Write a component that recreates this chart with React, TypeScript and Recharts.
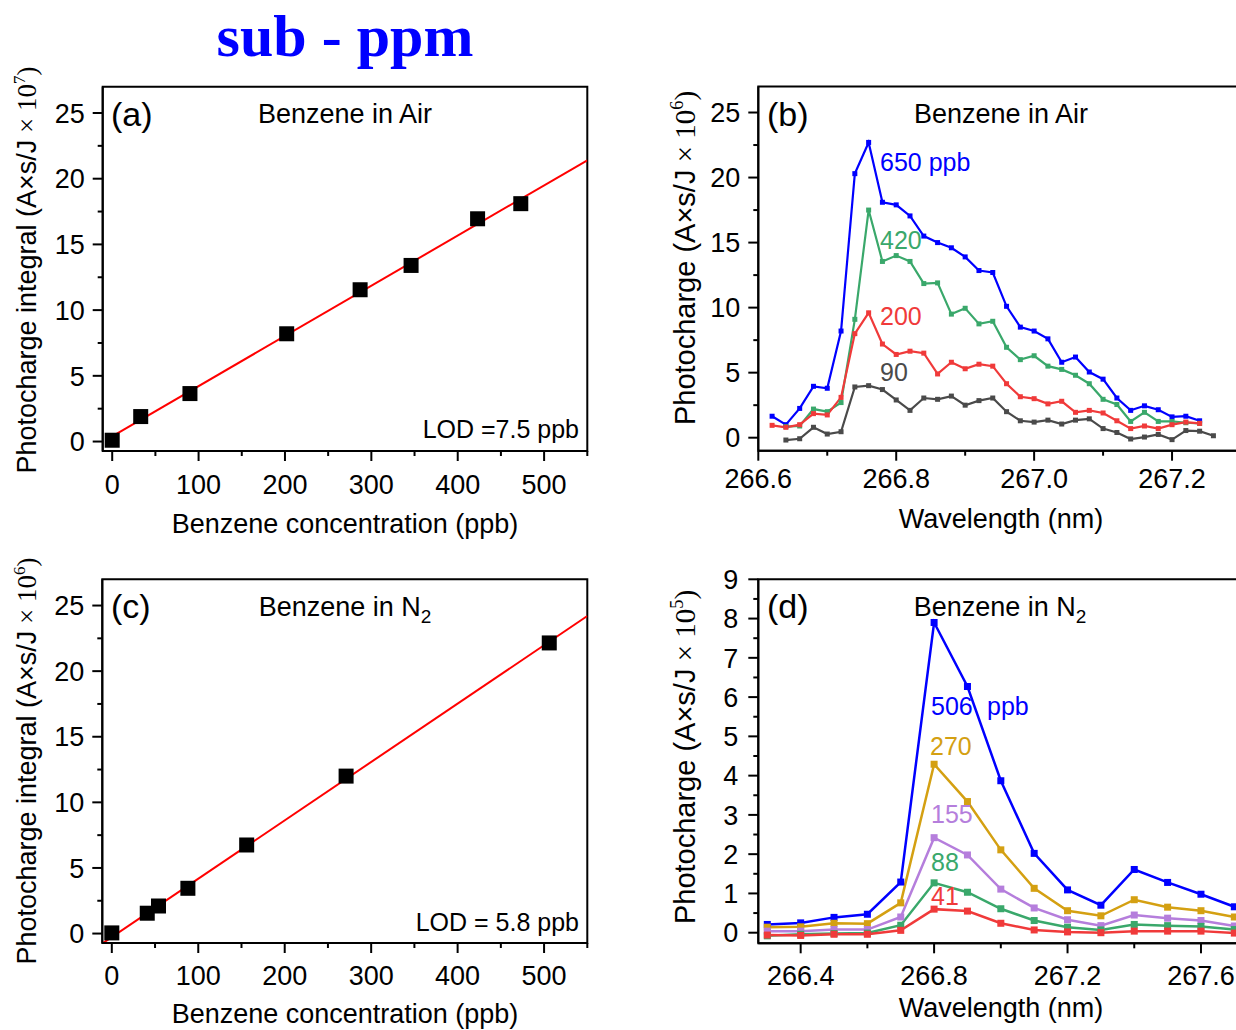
import React from "react";
import {
  ComposedChart,
  Line,
  Scatter,
  XAxis,
  YAxis,
  ReferenceArea,
} from "recharts";

const SANS = '"Liberation Sans", Arial, sans-serif';
const SERIF = '"Liberation Serif", "Times New Roman", serif';

// (a) benzene in air: photocharge integral vs concentration
const airConc = [0, 33, 90, 202, 287, 346, 423, 473];
const airIntegral = [0.1, 1.9, 3.65, 8.2, 11.55, 13.4, 16.95, 18.1];
const airFitX = [0, 550];
const airFitY = [0.4, 21.4];

// (c) benzene in N2
const n2Conc = [0, 41, 54, 88, 156, 271, 506];
const n2Integral = [0.05, 1.55, 2.1, 3.45, 6.75, 12.0, 22.15];
const n2FitX = [-11, 550];
const n2FitY = [-0.76, 24.2];

const concTicks = [0, 50, 100, 150, 200, 250, 300, 350, 400, 450, 500, 550];
const concLabels = [0, 100, 200, 300, 400, 500];
const integralTicks = [0, 2.5, 5, 7.5, 10, 12.5, 15, 17.5, 20, 22.5, 25];
const integralLabels = [0, 5, 10, 15, 20, 25];

// (b) spectra in air (x 10^6)
const airWl = [
  266.62, 266.64, 266.66, 266.68, 266.7, 266.72, 266.74, 266.76, 266.78, 266.8,
  266.82, 266.84, 266.86, 266.88, 266.9, 266.92, 266.94, 266.96, 266.98, 267.0,
  267.02, 267.04, 267.06, 267.08, 267.1, 267.12, 267.14, 267.16, 267.18, 267.2,
  267.22, 267.24, 267.26,
];
const air650 = [
  1.65, 1.0, 2.25, 3.95, 3.8, 8.2, 20.3, 22.7, 18.1, 17.9, 17.05, 15.5, 15.0,
  14.6, 13.9, 12.85, 12.7, 10.1, 8.5, 8.2, 7.6, 5.8, 6.2, 5.05, 4.5, 3.05, 2.1,
  2.45, 2.15, 1.6, 1.65, 1.3, null,
];
const air420 = [
  null, 0.85, 0.9, 2.2, 2.0, 2.7, 9.1, 17.5, 13.55, 14.0, 13.55, 11.85, 11.9,
  9.5, 9.95, 8.75, 8.95, 6.95, 6.0, 6.3, 5.5, 5.25, 4.8, 4.15, 2.95, 2.55, 1.25,
  1.95, 1.25, 1.25, 1.15, 1.1, null,
];
const air200 = [
  0.95, 0.8, 1.0, 1.85, 1.75, 3.1, 8.0, 9.6, 7.2, 6.4, 6.65, 6.5, 4.9, 5.8, 5.3,
  5.65, 5.5, 4.15, 3.15, 3.0, 2.6, 2.8, 1.95, 2.1, 1.9, 1.3, 0.7, 0.9, 0.7, 1.0,
  1.2, 1.1, null,
];
const air90 = [
  null, -0.18, -0.08, 0.8, 0.28, 0.46, 3.9, 4.0, 3.7, 2.9, 2.1, 3.05, 2.95, 3.2,
  2.5, 2.85, 3.05, 2.0, 1.3, 1.2, 1.35, 1.05, 1.35, 1.45, 0.7, 0.4, -0.1, 0.05,
  0.25, -0.15, 0.55, 0.5, 0.15,
];
const airWlTicks = [266.6, 266.7, 266.8, 266.9, 267.0, 267.1, 267.2, 267.3];
const airWlLabels = [266.6, 266.8, 267.0, 267.2];

// (d) spectra in N2 (x 10^5)
const n2Wl = [
  266.3, 266.4, 266.5, 266.6, 266.7, 266.8, 266.9, 267.0, 267.1, 267.2, 267.3,
  267.4, 267.5, 267.6, 267.7,
];
const n2_506 = [0.21, 0.25, 0.39, 0.47, 1.29, 7.9, 6.27, 3.87, 2.02, 1.09, 0.7, 1.61, 1.28, 0.98, 0.66];
const n2_270 = [0.14, 0.15, 0.24, 0.23, 0.76, 4.29, 3.34, 2.11, 1.13, 0.56, 0.43, 0.84, 0.65, 0.56, 0.4];
const n2_155 = [0.04, 0.04, 0.08, 0.08, 0.4, 2.42, 1.98, 1.11, 0.63, 0.33, 0.18, 0.45, 0.37, 0.31, 0.17];
const n2_88 = [-0.08, -0.04, -0.02, -0.01, 0.19, 1.27, 1.03, 0.61, 0.31, 0.14, 0.07, 0.21, 0.18, 0.16, 0.08];
const n2_41 = [-0.06, -0.07, -0.04, -0.04, 0.06, 0.6, 0.55, 0.24, 0.07, 0.02, 0.0, 0.04, 0.04, 0.04, -0.01];
const n2WlTicks = [266.4, 266.6, 266.8, 267.0, 267.2, 267.4, 267.6];
const n2WlLabels = [266.4, 266.8, 267.2, 267.6];
const n2YTicks = [0, 0.5, 1, 1.5, 2, 2.5, 3, 3.5, 4, 4.5, 5, 5.5, 6, 6.5, 7, 7.5, 8, 8.5, 9];
const n2YLabels = [0, 1, 2, 3, 4, 5, 6, 7, 8, 9];

const BLUE = "#0000ff";
const GREEN = "#3aa86b";
const RED = "#f03a3a";
const GRAY = "#4a4a4a";
const GOLD = "#d4a012";
const PURPLE = "#b57edc";

const CW = 1260;
const CH = 1030;
const FS = 27;

const isIn = (list: number[], v: number) => list.some((m) => Math.abs(m - v) < 1e-6);

function bottomTick(labels: number[], gap: number, fmt: (v: number) => string) {
  return (props: any) => {
    const { x, y, payload } = props;
    const major = isIn(labels, payload.value);
    return (
      <g>
        <line x1={x} x2={x} y1={y} y2={y + (major ? 10 : 5)} stroke="#000" strokeWidth={2} />
        {major && (
          <text x={x} y={y + gap} textAnchor="middle" fontFamily={SANS} fontSize={FS} fill="#000">
            {fmt(payload.value)}
          </text>
        )}
      </g>
    );
  };
}

function leftTick(labels: number[], gap: number) {
  return (props: any) => {
    const { x, y, payload } = props;
    const major = isIn(labels, payload.value);
    return (
      <g>
        <line x1={x} x2={x - (major ? 10 : 5)} y1={y} y2={y} stroke="#000" strokeWidth={2} />
        {major && (
          <text x={x - gap} y={y} dy="0.36em" textAnchor="end" fontFamily={SANS} fontSize={FS} fill="#000">
            {String(payload.value)}
          </text>
        )}
      </g>
    );
  };
}

// small square markers on the spectra (skip missing points)
const dotSquare = (size: number, color: string) => (props: any) => {
  const { cx, cy, index } = props;
  if (cx == null || cy == null || props.value == null) return <g key={`e${index}`} />;
  return (
    <rect key={`s${index}`} x={cx - size / 2} y={cy - size / 2} width={size} height={size} fill={color} />
  );
};

// big black squares for the calibration points
const calSquare = (props: any) => {
  const { cx, cy } = props;
  if (cx == null || cy == null) return <g />;
  return <rect x={cx - 7.5} y={cy - 7.5} width={15} height={15} fill="#000" />;
};

type Box = { left: number; top: number; right: number; bottom: number };

function CalPanel({
  box,
  conc,
  values,
  fitX,
  fitY,
  xGap,
}: {
  box: Box;
  conc: number[];
  values: number[];
  fitX: number[];
  fitY: number[];
  xGap: number;
}) {
  const pts = conc.map((c, i) => ({ x: c, y: values[i] }));
  const fit = fitX.map((x, i) => ({ x, y: fitY[i] }));
  const xd: [number, number] = [-11, 550];
  const yd: [number, number] = [-0.72, 27];
  return (
    <div style={{ position: "absolute", left: 0, top: 0 }}>
      <ComposedChart
        width={CW}
        height={CH}
        margin={{ top: box.top, right: CW - box.right, bottom: 0, left: 0 }}
      >
        <XAxis
          type="number"
          dataKey="x"
          domain={xd}
          allowDataOverflow
          ticks={concTicks}
          interval={0}
          height={CH - box.bottom}
          tickSize={0}
          tickMargin={0}
          tickLine={false}
          axisLine={{ stroke: "#000", strokeWidth: 2 }}
          tick={bottomTick(concLabels, xGap, (v) => String(v))}
        />
        <YAxis
          type="number"
          dataKey="y"
          domain={yd}
          allowDataOverflow
          ticks={integralTicks}
          interval={0}
          width={box.left}
          tickSize={0}
          tickMargin={0}
          tickLine={false}
          axisLine={{ stroke: "#000", strokeWidth: 2 }}
          tick={leftTick(integralLabels, 18)}
        />
        <ReferenceArea x1={xd[0]} x2={xd[1]} y1={yd[0]} y2={yd[1]} fill="none" stroke="#000" strokeWidth={2} ifOverflow="visible" />
        <Scatter data={pts} dataKey="y" shape={calSquare} isAnimationActive={false} />
        <Line data={fit} dataKey="y" stroke="#ff0000" strokeWidth={2} dot={false} activeDot={false} isAnimationActive={false} />
      </ComposedChart>
    </div>
  );
}

function SpecPanel({
  box,
  rows,
  series,
  xd,
  yd,
  xTicks,
  xLabels,
  yTicks,
  yLabels,
  xGap,
  yGap,
  marker,
  lineW,
}: {
  box: Box;
  rows: any[];
  series: { key: string; color: string }[];
  xd: [number, number];
  yd: [number, number];
  xTicks: number[];
  xLabels: number[];
  yTicks: number[];
  yLabels: number[];
  xGap: number;
  yGap: number;
  marker: number;
  lineW: number;
}) {
  return (
    <div style={{ position: "absolute", left: 0, top: 0 }}>
      <ComposedChart
        width={CW}
        height={CH}
        data={rows}
        margin={{ top: box.top, right: CW - box.right, bottom: 0, left: 0 }}
      >
        <XAxis
          type="number"
          dataKey="wl"
          domain={xd}
          allowDataOverflow
          ticks={xTicks}
          interval={0}
          height={CH - box.bottom}
          tickSize={0}
          tickMargin={0}
          tickLine={false}
          axisLine={{ stroke: "#000", strokeWidth: 2 }}
          tick={bottomTick(xLabels, xGap, (v) => v.toFixed(1))}
        />
        <YAxis
          type="number"
          domain={yd}
          allowDataOverflow
          ticks={yTicks}
          interval={0}
          width={box.left}
          tickSize={0}
          tickMargin={0}
          tickLine={false}
          axisLine={{ stroke: "#000", strokeWidth: 2 }}
          tick={leftTick(yLabels, yGap)}
        />
        <ReferenceArea x1={xd[0]} x2={xd[1]} y1={yd[0]} y2={yd[1]} fill="none" stroke="#000" strokeWidth={2} ifOverflow="visible" />
        {series.map((s) => (
          <Line
            key={s.key}
            dataKey={s.key}
            stroke={s.color}
            strokeWidth={lineW}
            dot={dotSquare(marker, s.color)}
            activeDot={false}
            isAnimationActive={false}
          />
        ))}
      </ComposedChart>
    </div>
  );
}

function YTitle({ x, y, main, exp, fs = FS }: { x: number; y: number; main: string; exp: string; fs?: number }) {
  return (
    <text
      x={x}
      y={y}
      transform={`rotate(-90 ${x} ${y})`}
      textAnchor="middle"
      fontSize={fs}
      fill="#000"
    >
      <tspan fontFamily={SANS}>{main}</tspan>
      <tspan fontFamily={SERIF}> × 10</tspan>
      <tspan fontFamily={SERIF} fontSize={fs * 0.63} dy={-fs * 0.4}>
        {exp}
      </tspan>
      <tspan fontFamily={SERIF} dy={fs * 0.4}>
        )
      </tspan>
    </text>
  );
}

function N2Title({ x, y }: { x: number; y: number }) {
  return (
    <text x={x} y={y} textAnchor="middle" fontFamily={SANS} fontSize={FS} fill="#000">
      Benzene in N
      <tspan fontSize={19} dy={7}>
        2
      </tspan>
    </text>
  );
}

export default function App() {
  const airRows = airWl.map((wl, i) => ({
    wl,
    s650: air650[i],
    s420: air420[i],
    s200: air200[i],
    s90: air90[i],
  }));
  const n2Rows = n2Wl.map((wl, i) => ({
    wl,
    s506: n2_506[i],
    s270: n2_270[i],
    s155: n2_155[i],
    s88: n2_88[i],
    s41: n2_41[i],
  }));

  return (
    <div
      style={{
        position: "absolute",
        left: 0,
        top: 0,
        width: 1236,
        height: 1030,
        overflow: "hidden",
        background: "#fff",
      }}
    >
      <CalPanel
        box={{ left: 102.7, top: 86.7, right: 587.3, bottom: 451 }}
        conc={airConc}
        values={airIntegral}
        fitX={airFitX}
        fitY={airFitY}
        xGap={43}
      />
      <CalPanel
        box={{ left: 102.3, top: 579.3, right: 587.3, bottom: 943 }}
        conc={n2Conc}
        values={n2Integral}
        fitX={n2FitX}
        fitY={n2FitY}
        xGap={42}
      />
      <SpecPanel
        box={{ left: 758.3, top: 86.5, right: 1241, bottom: 450.7 }}
        rows={airRows}
        series={[
          { key: "s650", color: BLUE },
          { key: "s420", color: GREEN },
          { key: "s200", color: RED },
          { key: "s90", color: GRAY },
        ]}
        xd={[266.6, 267.3]}
        yd={[-1, 27]}
        xTicks={airWlTicks}
        xLabels={airWlLabels}
        yTicks={integralTicks}
        yLabels={integralLabels}
        xGap={37}
        yGap={18}
        marker={5}
        lineW={2.2}
      />
      <SpecPanel
        box={{ left: 758.3, top: 579.3, right: 1241, bottom: 943.3 }}
        rows={n2Rows}
        series={[
          { key: "s506", color: BLUE },
          { key: "s270", color: GOLD },
          { key: "s155", color: PURPLE },
          { key: "s88", color: GREEN },
          { key: "s41", color: RED },
        ]}
        xd={[266.273, 267.72]}
        yd={[-0.27, 9]}
        xTicks={n2WlTicks}
        xLabels={n2WlLabels}
        yTicks={n2YTicks}
        yLabels={n2YLabels}
        xGap={42}
        yGap={20}
        marker={7}
        lineW={2.5}
      />

      <svg
        width={1236}
        height={1030}
        style={{ position: "absolute", left: 0, top: 0, pointerEvents: "none" }}
      >
        <text x={345} y={56} textAnchor="middle" fontFamily={SERIF} fontWeight="bold" fontSize={60} fill="#0000ff">
          sub - ppm
        </text>

        {/* (a) */}
        <text x={111} y={126} fontFamily={SANS} fontSize={34} fill="#000">(a)</text>
        <text x={345} y={123} textAnchor="middle" fontFamily={SANS} fontSize={FS} fill="#000">Benzene in Air</text>
        <text x={579} y={438} textAnchor="end" fontFamily={SANS} fontSize={25} fill="#000">LOD =7.5 ppb</text>
        <YTitle x={36} y={270} main="Photocharge integral (A×s/J" exp="7" />
        <text x={345} y={533} textAnchor="middle" fontFamily={SANS} fontSize={FS} fill="#000">Benzene concentration (ppb)</text>

        {/* (b) */}
        <text x={767} y={126} fontFamily={SANS} fontSize={34} fill="#000">(b)</text>
        <text x={1001} y={123} textAnchor="middle" fontFamily={SANS} fontSize={FS} fill="#000">Benzene in Air</text>
        <text x={880} y={171} fontFamily={SANS} fontSize={25} fill={BLUE}>650 ppb</text>
        <text x={880} y={249} fontFamily={SANS} fontSize={25} fill={GREEN}>420</text>
        <text x={880} y={325} fontFamily={SANS} fontSize={25} fill={RED}>200</text>
        <text x={880} y={381} fontFamily={SANS} fontSize={25} fill={GRAY}>90</text>
        <YTitle x={695} y={258} main="Photocharge (A×s/J" exp="6" fs={29} />
        <text x={1001} y={528} textAnchor="middle" fontFamily={SANS} fontSize={FS} fill="#000">Wavelength (nm)</text>

        {/* (c) */}
        <text x={111} y={618} fontFamily={SANS} fontSize={34} fill="#000">(c)</text>
        <N2Title x={345} y={616} />
        <text x={579} y={931} textAnchor="end" fontFamily={SANS} fontSize={25} fill="#000">LOD = 5.8 ppb</text>
        <YTitle x={36} y={761} main="Photocharge integral (A×s/J" exp="6" />
        <text x={345} y={1023} textAnchor="middle" fontFamily={SANS} fontSize={FS} fill="#000">Benzene concentration (ppb)</text>

        {/* (d) */}
        <text x={767} y={618} fontFamily={SANS} fontSize={34} fill="#000">(d)</text>
        <N2Title x={1000} y={616} />
        <text x={931} y={715} fontFamily={SANS} fontSize={25} fill={BLUE}>506</text>
        <text x={987} y={715} fontFamily={SANS} fontSize={25} fill={BLUE}>ppb</text>
        <text x={930} y={755} fontFamily={SANS} fontSize={25} fill={GOLD}>270</text>
        <text x={931} y={823} fontFamily={SANS} fontSize={25} fill={PURPLE}>155</text>
        <text x={931} y={871} fontFamily={SANS} fontSize={25} fill={GREEN}>88</text>
        <text x={931} y={905} fontFamily={SANS} fontSize={25} fill={RED}>41</text>
        <YTitle x={695} y={757} main="Photocharge (A×s/J" exp="5" fs={29} />
        <text x={1001} y={1017} textAnchor="middle" fontFamily={SANS} fontSize={FS} fill="#000">Wavelength (nm)</text>
      </svg>
    </div>
  );
}
